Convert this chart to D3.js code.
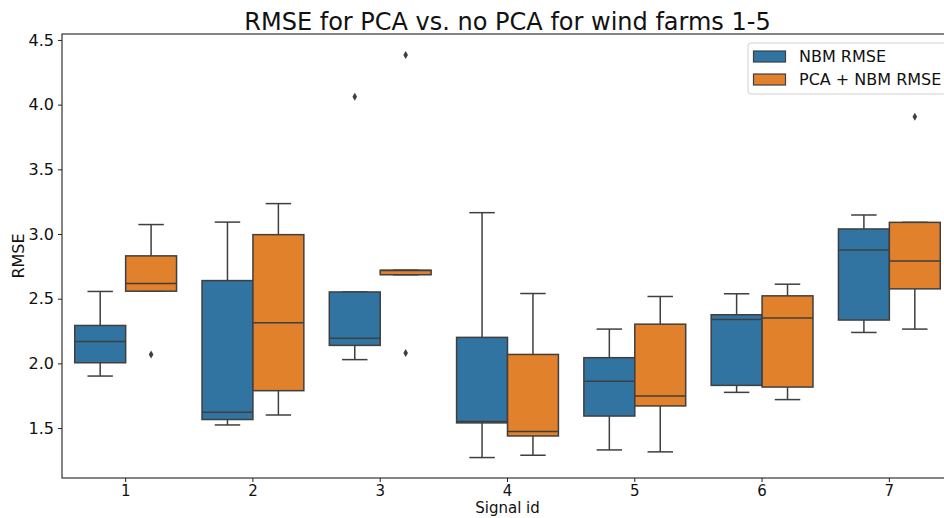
<!DOCTYPE html>
<html>
<head>
<meta charset="utf-8">
<script src="https://cdn.jsdelivr.net/npm/d3@7"></script>
<style>
	body { margin: 0; background: #fff; }
	svg { display: block; font-family: "DejaVu Sans", sans-serif; }
</style>
</head>
<body>
<div id="chart"></div>
<script>
// box stats, one entry per signal id
var signal_ids = ['1', '2', '3', '4', '5', '6', '7'];
var series_names = ['NBM RMSE', 'PCA + NBM RMSE'];

var nbm_low = [1.902, 1.524, 2.029, 1.272, 1.331, 1.776, 2.239];
var nbm_q1 = [2.005, 1.566, 2.139, 1.540, 1.593, 1.830, 2.335];
var nbm_med = [2.170, 1.622, 2.195, 1.550, 1.861, 2.340, 2.877];
var nbm_q3 = [2.293, 2.640, 2.552, 2.201, 2.044, 2.376, 3.039];
var nbm_high = [2.556, 3.092, 2.552, 3.165, 2.265, 2.538, 3.147];
var nbm_out = [[], [], [4.06], [], [], [], []];

var pca_low = [2.558, 1.601, 2.685, 1.290, 1.316, 1.720, 2.265];
var pca_q1 = [2.558, 1.789, 2.685, 1.439, 1.671, 1.817, 2.576];
var pca_med = [2.617, 2.314, 2.718, 1.473, 1.748, 2.350, 2.792];
var pca_q3 = [2.831, 2.995, 2.720, 2.069, 2.303, 2.522, 3.090];
var pca_high = [3.073, 3.235, 2.720, 2.540, 2.517, 2.612, 3.090];
var pca_out = [[2.069], [], [4.384, 2.080], [], [], [], [3.906]];

var y_ticks = [1.5, 2.0, 2.5, 3.0, 3.5, 4.0, 4.5];

var colors = ['#3274a1', '#e1812c'];
var line_col = '#3f3f3f';

var W = 944, H = 518;
var pad = {left: 62, top: 34, right: 953, bottom: 478};

function buildSeries(low, q1, med, q3, high, out) {
	return signal_ids.map(function (s, i) {
		return {id: s, low: low[i], q1: q1[i], med: med[i], q3: q3[i], high: high[i], out: out[i]};
	});
}

var series = [
	buildSeries(nbm_low, nbm_q1, nbm_med, nbm_q3, nbm_high, nbm_out),
	buildSeries(pca_low, pca_q1, pca_med, pca_q3, pca_high, pca_out)
];

var svg = d3.select('#chart').append('svg')
	.attr('width', W).attr('height', H);

var x_scale = d3.scaleBand().domain(signal_ids)
	.range([pad.left, pad.right]).paddingInner(0).paddingOuter(0);
var band = x_scale.bandwidth();
var y_scale = d3.scaleLinear().domain([1.114, 4.546]).range([pad.bottom, pad.top]);

// each hue level gets 0.4 of the category width
var box_w = band * 0.4;
function boxX(d, k) {
	return x_scale(d.id) + band / 2 + (k === 0 ? -box_w : 0);
}

var g_boxes = svg.append('g').attr('class', 'boxes');

series.forEach(function (ser, k) {
	var g = g_boxes.selectAll('g.box' + k).data(ser).enter()
		.append('g').attr('class', 'box' + k);

	// whiskers
	g.append('line')
		.attr('x1', function (d) {return boxX(d, k) + box_w / 2;})
		.attr('x2', function (d) {return boxX(d, k) + box_w / 2;})
		.attr('y1', function (d) {return y_scale(d.q3);})
		.attr('y2', function (d) {return y_scale(d.high);})
		.attr('stroke', line_col).attr('stroke-width', 1.5);
	g.append('line')
		.attr('x1', function (d) {return boxX(d, k) + box_w / 2;})
		.attr('x2', function (d) {return boxX(d, k) + box_w / 2;})
		.attr('y1', function (d) {return y_scale(d.q1);})
		.attr('y2', function (d) {return y_scale(d.low);})
		.attr('stroke', line_col).attr('stroke-width', 1.5);

	// caps, half the box width
	['high', 'low'].forEach(function (key) {
		g.append('line')
			.attr('x1', function (d) {return boxX(d, k) + box_w / 4;})
			.attr('x2', function (d) {return boxX(d, k) + box_w * 3 / 4;})
			.attr('y1', function (d) {return y_scale(d[key]);})
			.attr('y2', function (d) {return y_scale(d[key]);})
			.attr('stroke', line_col).attr('stroke-width', 1.5);
	});

	// box
	g.append('rect')
		.attr('x', function (d) {return boxX(d, k);})
		.attr('y', function (d) {return y_scale(d.q3);})
		.attr('width', box_w)
		.attr('height', function (d) {return Math.max(y_scale(d.q1) - y_scale(d.q3), 0.5);})
		.attr('fill', colors[k])
		.attr('stroke', line_col).attr('stroke-width', 1.5);

	// median
	g.append('line')
		.attr('x1', function (d) {return boxX(d, k);})
		.attr('x2', function (d) {return boxX(d, k) + box_w;})
		.attr('y1', function (d) {return y_scale(d.med);})
		.attr('y2', function (d) {return y_scale(d.med);})
		.attr('stroke', line_col).attr('stroke-width', 1.5);

	// fliers as thin diamonds
	g.selectAll('path.flier').data(function (d) {
		return d.out.map(function (v) {return {d: d, v: v};});
	}).enter().append('path')
		.attr('class', 'flier')
		.attr('d', function (o) {
			var cx = boxX(o.d, k) + box_w / 2, cy = y_scale(o.v);
			return 'M' + cx + ',' + (cy - 4) + 'L' + (cx + 2.3) + ',' + cy +
				'L' + cx + ',' + (cy + 4) + 'L' + (cx - 2.3) + ',' + cy + 'Z';
		})
		.attr('fill', line_col);
});

// axes
var y_axis = d3.axisLeft(y_scale).tickValues(y_ticks).tickFormat(d3.format('.1f'))
	.tickSize(4).tickPadding(4);
var x_axis = d3.axisBottom(x_scale).tickSize(4).tickPadding(3);

var gy = svg.append('g').attr('transform', 'translate(' + pad.left + ',0)').call(y_axis);
var gx = svg.append('g').attr('transform', 'translate(0,' + pad.bottom + ')').call(x_axis);
[gx, gy].forEach(function (g) {
	g.select('.domain').remove();
	g.selectAll('.tick line').attr('stroke', '#222').attr('stroke-width', 1);
	g.selectAll('.tick text').attr('fill', '#111').style('font-size', '16px')
		.style('font-family', '"DejaVu Sans", sans-serif');
});
gx.selectAll('.tick text').style('font-size', '15px');

// spines
svg.append('rect')
	.attr('x', pad.left).attr('y', pad.top)
	.attr('width', pad.right - pad.left).attr('height', pad.bottom - pad.top)
	.attr('fill', 'none').attr('stroke', '#222').attr('stroke-width', 1.1);

// title and labels
svg.append('text')
	.attr('x', (pad.left + pad.right) / 2).attr('y', 30)
	.attr('text-anchor', 'middle').style('font-size', '24px').attr('fill', '#111')
	.text('RMSE for PCA vs. no PCA for wind farms 1-5');
svg.append('text')
	.attr('x', (pad.left + pad.right) / 2).attr('y', 513)
	.attr('text-anchor', 'middle').style('font-size', '15px').attr('fill', '#111')
	.text('Signal id');
svg.append('text')
	.attr('transform', 'translate(24,' + (pad.top + pad.bottom) / 2 + ') rotate(-90)')
	.attr('text-anchor', 'middle').style('font-size', '16px').attr('fill', '#111')
	.text('RMSE');

// legend
var leg = svg.append('g').attr('transform', 'translate(748,43)');
leg.append('rect')
	.attr('width', 220).attr('height', 51).attr('rx', 3)
	.attr('fill', '#fff').attr('fill-opacity', 0.8)
	.attr('stroke', '#d0d0d0').attr('stroke-width', 1);
series_names.forEach(function (name, k) {
	leg.append('rect')
		.attr('x', 5.5).attr('y', 8 + k * 23)
		.attr('width', 32).attr('height', 11)
		.attr('fill', colors[k]).attr('stroke', line_col).attr('stroke-width', 1.2);
	leg.append('text')
		.attr('x', 51).attr('y', 19 + k * 23)
		.style('font-size', '16px').attr('fill', '#111')
		.text(name);
});
</script>
</body>
</html>
